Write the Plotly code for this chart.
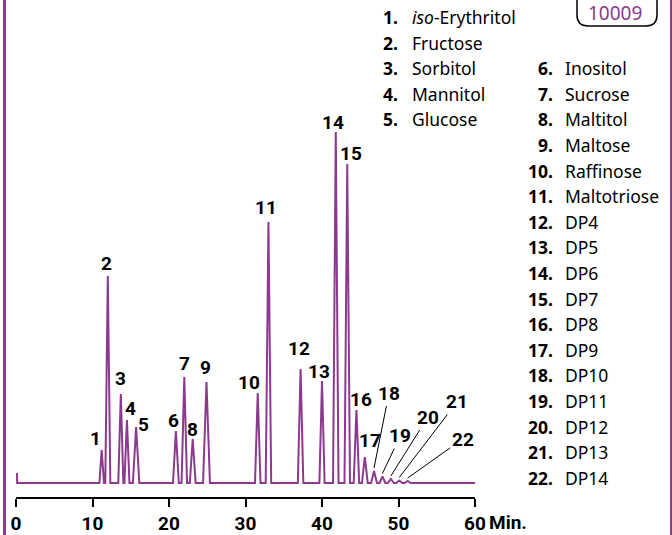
import plotly.graph_objects as go

# chromatogram peaks (retention time in min, response)
peak_ids = list(range(1, 23))
peak_times = [11.2, 12.0, 13.7, 14.5, 15.7, 20.9, 22.0, 23.1, 24.9, 31.6, 33.0,
              37.2, 40.0, 41.8, 43.3, 44.5, 45.6, 46.8, 47.9, 49.0, 50.1, 51.2]
peak_heights = [33, 207, 89, 63, 56, 52, 106, 44, 101, 90, 261,
                114, 102, 351, 319, 73, 26, 12, 6.5, 4, 2.5, 2]
peak_halfwidths = [0.3, 0.33, 0.33, 0.33, 0.42, 0.38, 0.36, 0.38, 0.45, 0.36, 0.36,
                   0.36, 0.34, 0.36, 0.36, 0.36, 0.38, 0.38, 0.38, 0.4, 0.4, 0.4]
injection_time = 0.13
injection_height = 10
run_end = 60

compound_names = ["<i>iso</i>-Erythritol", "Fructose", "Sorbitol", "Mannitol", "Glucose",
                  "Inositol", "Sucrose", "Maltitol", "Maltose", "Raffinose", "Maltotriose",
                  "DP4", "DP5", "DP6", "DP7", "DP8", "DP9", "DP10", "DP11", "DP12",
                  "DP13", "DP14"]

x_ticks = [0, 10, 20, 30, 40, 50, 60]

PURPLE = "#8b3a8e"
NUM_FONT = "Roboto, Liberation Sans, sans-serif"
TXT_FONT = "Noto Sans, Open Sans, sans-serif"

W, H = 672, 535
PLOT_L, PLOT_R, AXIS_Y = 16, 475, 497


def px(x):
    return (x - PLOT_L) / (PLOT_R - PLOT_L)


def py(y):
    return (AXIS_Y - y) / AXIS_Y


# build the trace: injection blip, then a sharp peak per compound
xs = [injection_time, injection_time + 0.02]
ys = [injection_height, 0]
for t, h, w in zip(peak_times, peak_heights, peak_halfwidths):
    xs += [t - w, t, t + w]
    ys += [0, h, 0]
xs.append(run_end)
ys.append(0)

fig = go.Figure()
fig.add_trace(go.Scatter(x=xs, y=ys, mode="lines",
                         line=dict(color=PURPLE, width=2), hoverinfo="skip"))

# peak number labels (offsets in px: right, up)
label_offsets = {1: (-6, 12), 2: (-1, 13), 3: (0, 16), 4: (4, 12), 5: (7, 3),
                 6: (-2, 11), 7: (0, 14), 8: (0, 10), 9: (-1, 15), 10: (-9, 11),
                 11: (-2, 15), 12: (-2, 21), 13: (-3, 10), 14: (-3, 10), 15: (4, 11),
                 16: (5, 11), 17: (5, 17)}
leader_offsets = {18: (15, -75), 19: (18, -38), 20: (37, -59), 21: (58, -76), 22: (55, -39)}

for pid, t, h in zip(peak_ids, peak_times, peak_heights):
    if pid in label_offsets:
        dx, dy = label_offsets[pid]
        fig.add_annotation(x=t, y=h, text=f"<b>{pid}</b>", showarrow=False,
                           xshift=dx, yshift=dy, yanchor="middle",
                           font=dict(family=NUM_FONT, size=19, color="black"))
    else:
        ax, ay = leader_offsets[pid]
        fig.add_annotation(x=t, y=h + 3, text=f"<b>{pid}</b>", showarrow=True,
                           arrowhead=0, arrowwidth=1, arrowcolor="black",
                           ax=ax, ay=ay,
                           font=dict(family=NUM_FONT, size=19, color="black"))

# "Min." after the last tick label
fig.add_annotation(x=run_end, y=0, yref="paper", text="<b>Min.</b>", showarrow=False,
                   xanchor="left", xshift=12, yshift=-25, yanchor="middle",
                   font=dict(family=NUM_FONT, size=19, color="black"))

# compound list, two columns
for i, (pid, name) in enumerate(zip(peak_ids, compound_names)):
    if pid <= 5:
        row, num_x, name_x = i, 400, 410
    else:
        row, num_x, name_x = i - 3, 555, 563
    yy = py(17 + row * 25.6)
    fig.add_annotation(x=px(num_x), y=yy, xref="paper", yref="paper",
                       text=f"<b>{pid}.</b>", showarrow=False,
                       xanchor="right", yanchor="middle",
                       font=dict(family=TXT_FONT, size=17.5, color="black"))
    fig.add_annotation(x=px(name_x), y=yy, xref="paper", yref="paper",
                       text=name, showarrow=False,
                       xanchor="left", yanchor="middle",
                       font=dict(family=TXT_FONT, size=17.5, color="black"))

# rounded tag box at the top right
bx0, bx1, btop, bbot, r = 577, 657, -12, 26, 11
path = (f"M {px(bx0)},{py(btop)} L {px(bx0)},{py(bbot - r)} "
        f"Q {px(bx0)},{py(bbot)} {px(bx0 + r)},{py(bbot)} "
        f"L {px(bx1 - r)},{py(bbot)} Q {px(bx1)},{py(bbot)} {px(bx1)},{py(bbot - r)} "
        f"L {px(bx1)},{py(btop)}")
fig.add_shape(type="path", path=path, xref="paper", yref="paper",
              line=dict(color="black", width=1.5))
fig.add_annotation(x=px(615), y=py(13), xref="paper", yref="paper", text="10009",
                   showarrow=False, xanchor="center", yanchor="middle",
                   font=dict(family=TXT_FONT, size=19, color=PURPLE))

# purple frame edges
for xpos, lw in [(4.5, 3), (671, 2)]:
    fig.add_shape(type="line", xref="paper", yref="paper",
                  x0=px(xpos), x1=px(xpos), y0=py(0), y1=py(H),
                  line=dict(color=PURPLE, width=lw))

fig.update_layout(
    width=W, height=H, autosize=False,
    margin=dict(l=PLOT_L, r=W - PLOT_R, t=0, b=H - AXIS_Y),
    plot_bgcolor="white", paper_bgcolor="white",
    showlegend=False,
    xaxis=dict(range=[0, run_end], tickvals=x_ticks, showgrid=False, zeroline=False,
               showline=True, linecolor="black", linewidth=1.5,
               ticks="outside", ticklen=8, tickwidth=1.5, tickcolor="black",
               tickfont=dict(family=NUM_FONT, size=19, color="black", weight="bold")),
    yaxis=dict(range=[-14, 483], visible=False),
)

# the page's default body margin would push the figure off the window
fig.write_html("out.html", config={"displayModeBar": False},
               post_script="document.body.style.margin='0';")
